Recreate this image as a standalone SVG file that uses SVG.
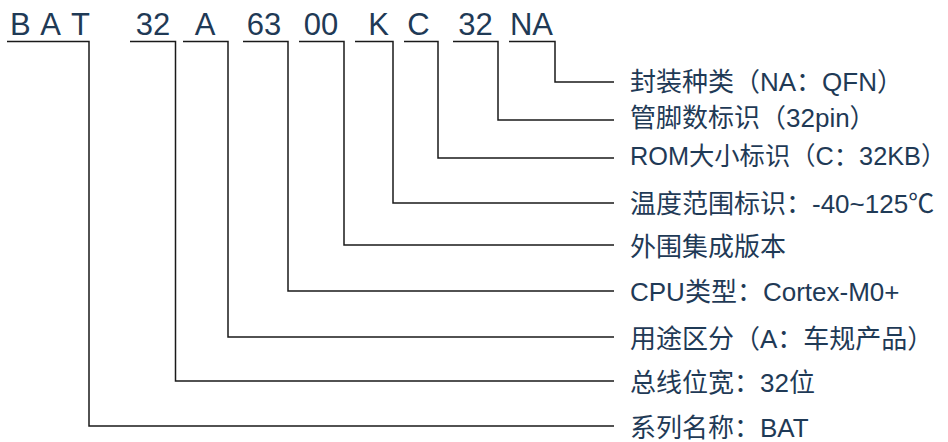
<svg xmlns="http://www.w3.org/2000/svg" width="948" height="442" viewBox="0 0 948 442">
<style>
.code{font-family:"Liberation Sans","Noto Sans CJK SC",sans-serif;font-size:31px;fill:#1f3a56;text-anchor:middle}
.lbl{font-family:"Liberation Sans","Noto Sans CJK SC",sans-serif;font-size:26px;fill:#1f3a56}
.ln{fill:none;stroke:#1a1a1a;stroke-width:1.5}
</style>
<rect width="948" height="442" fill="#fff"/>
<g id="connectors">
<path class="ln" d="M7 41.5H89V426H614"/>
<path class="ln" d="M130 41.5H175.5V381H614"/>
<path class="ln" d="M183 41.5H228V337H614"/>
<path class="ln" d="M243 41.5H288V291H614"/>
<path class="ln" d="M299 41.5H344V245H614"/>
<path class="ln" d="M355 41.5H393V203H614"/>
<path class="ln" d="M404 41.5H438V158H614"/>
<path class="ln" d="M453 41.5H498V120H614"/>
<path class="ln" d="M509 41.5H555V82H614"/>
</g>
<g id="seg-series"><text class="code" x="20.3" y="35">B</text><text class="code" x="50.5" y="35">A</text><text class="code" x="80.5" y="35">T</text><text class="lbl" x="630" y="437">系列名称：BAT</text></g>
<g id="seg-bus"><text class="code" x="153" y="35">32</text><text class="lbl" x="630" y="392">总线位宽：32位</text></g>
<g id="seg-use"><text class="code" x="205" y="35">A</text><text class="lbl" x="630" y="348">用途区分（A：车规产品）</text></g>
<g id="seg-cpu"><text class="code" x="264" y="35">63</text><text class="lbl" x="630" y="301">CPU类型：Cortex-M0+</text></g>
<g id="seg-periph"><text class="code" x="321" y="35">00</text><text class="lbl" x="630" y="256">外围集成版本</text></g>
<g id="seg-temp"><text class="code" x="378.5" y="35">K</text><text class="lbl" x="630" y="213">温度范围标识：-40~125℃</text></g>
<g id="seg-rom"><text class="code" x="418.5" y="35">C</text><text class="lbl" x="630" y="165" style="font-size:25.3px">ROM大小标识（C：32KB）</text></g>
<g id="seg-pins"><text class="code" x="475.5" y="35">32</text><text class="lbl" x="630" y="127">管脚数标识（32pin）</text></g>
<g id="seg-pkg"><text class="code" x="531.5" y="35">NA</text><text class="lbl" x="630" y="91">封装种类（NA：QFN）</text></g>
</svg>
